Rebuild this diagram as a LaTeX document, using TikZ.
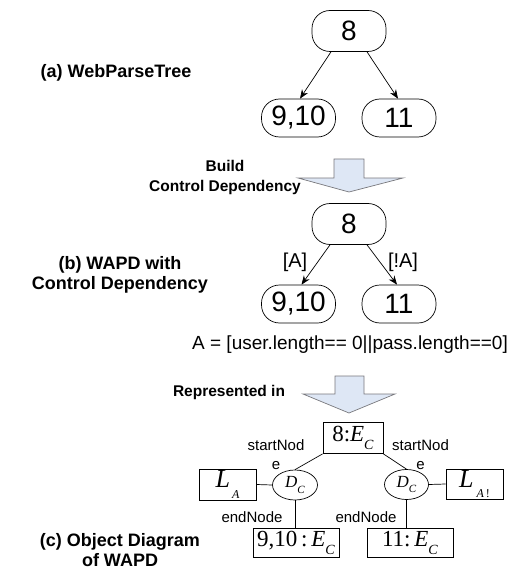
\documentclass[tikz,border=0pt]{standalone}
\usepackage{fontspec}
\setmainfont{Liberation Sans}
\newfontfamily\tms{Liberation Serif}
\usetikzlibrary{arrows.meta,shapes.geometric}

\newcommand\fs[1]{\fontsize{#1}{#1}\selectfont}
% italic letter with a lowered italic subscript
\newcommand\isub[3]{\textit{#1}\raisebox{-0.35em}{\fs{#3}\textit{#2}}}

\definecolor{blockfill}{RGB}{222,231,245}
\definecolor{blockline}{RGB}{120,120,125}

\tikzset{
  treenode/.style={draw, line width=0.7pt, rounded corners=18pt, inner sep=0pt,
    minimum width=74pt, minimum height=38pt, font=\fs{28}},
  objbox/.style={draw, line width=0.7pt, inner sep=0pt, minimum height=30pt,
    font=\tms\fs{23}},
  dnode/.style={draw, ellipse, line width=0.7pt, inner sep=0pt,
    minimum width=45pt, minimum height=30pt, font=\tms\fs{17}},
  treeedge/.style={line width=0.7pt, -{Stealth[length=9pt,width=7pt]}},
  link/.style={line width=0.7pt},
  caption/.style={font=\bfseries\fs{18}, align=center, inner sep=0pt},
  smallcap/.style={font=\bfseries\fs{15.5}, align=center, inner sep=0pt},
  edgelabel/.style={font=\fs{20}, inner sep=0pt},
  rolelabel/.style={font=\fs{15}, align=center, inner sep=0pt},
  blockarrow/.style={fill=blockfill, draw=blockline, line width=0.7pt, line join=miter}
}

\begin{document}
\begin{tikzpicture}[x=1pt, y=-1pt]
\useasboundingbox (0,0) rectangle (513,572);

% ---------- (a) web parse tree ----------
\node[caption] (capa) at (116,73) {(a) WebParseTree};
\node[treenode, minimum height=41pt] (a8) at (349,31) {8};
\node[treenode] (a910) at (298.5,118) {9,10};
\node[treenode] (a11) at (399,118) {11};
\draw[treeedge] ([xshift=-18pt]a8.south) -- ([xshift=1.5pt]a910.north);
\draw[treeedge] ([xshift=18pt]a8.south) -- ([xshift=-1pt]a11.north);

% ---------- block arrow: build control dependency ----------
\draw[blockarrow] (334,159) -- (364,159) -- (364,178) -- (403,178) -- (349,192)
  -- (298,178) -- (334,178) -- cycle;
\node[smallcap] (build) at (225,177) {Build\\[4.5pt]Control Dependency};

% ---------- (b) WAPD with control dependency ----------
\node[caption] (capb) at (120,275) {(b) WAPD with\\[2pt]Control Dependency};
\node[treenode, minimum height=41pt] (b8) at (349,224) {8};
\node[treenode] (b910) at (298.5,304) {9,10};
\node[treenode] (b11) at (399,304) {11};
\draw[treeedge] ([xshift=-19pt]b8.south) -- ([xshift=3pt]b910.north);
\draw[treeedge] ([xshift=18pt]b8.south) -- ([xshift=-2pt]b11.north);
\node[edgelabel] (lblA) at (295,262) {[A]};
\node[edgelabel] (lblnA) at (403,262) {[!A]};
\node[font=\fs{19}, inner sep=0pt] (cond) at (350,345)
  {A = [user.length== 0||pass.length==0]};

% ---------- block arrow: represented in ----------
\draw[blockarrow] (335,376) -- (364,376) -- (364,394) -- (395,394) -- (349,413)
  -- (303,394) -- (335,394) -- cycle;
\node[smallcap] (repr) at (229,392.5) {Represented in};

% ---------- (c) object diagram of WAPD ----------
\node[caption] (capc) at (120,550) {(c) Object Diagram\\[2pt]of WAPD};

\node[objbox, minimum width=60pt, minimum height=31pt] (c8) at (353,438)
  {8:\isub{E}{C}{14}};
\node[dnode] (dl) at (295,485) {\isub{D}{C}{11}};
\node[dnode, minimum width=44pt] (dr) at (406.5,484.5) {\isub{D}{C}{11}};
\node[objbox, minimum width=57pt, minimum height=31pt] (la) at (227.5,484.5)
  {\fs{26}\textit{L}\hspace{2pt}\raisebox{-0.4em}{\fs{12}\textit{A}}};
\node[objbox, minimum width=57pt] (lna) at (474.5,484)
  {\fs{26}\textit{L}\hspace{3pt}\raisebox{-0.4em}{\fs{12}\textit{A}\,!}};
\node[objbox, minimum width=86pt, minimum height=29pt] (c910) at (296,542.5)
  {9,10\,:\,\isub{E}{C}{14}};
\node[objbox, minimum width=86pt, minimum height=29pt] (c11) at (410,542.5)
  {11:\,\isub{E}{C}{14}};

\draw[link] (c8.south west) -- (dl.north);
\draw[link] (c8.south east) -- (dr.north);
\draw[link] (la.east) -- (dl.west);
\draw[link] (dr.east) -- (lna.west);
\draw[link] (dl.south) -- (dl.south |- c910.north);
\draw[link] (dr.south) -- (dr.south |- c11.north);

\node[rolelabel] (snl) at (276,455) {startNod\\[4pt]e};
\node[rolelabel] (snr) at (420.5,455) {startNod\\[4pt]e};
\node[rolelabel] (enl) at (252,517) {endNode};
\node[rolelabel] (enr) at (366,517) {endNode};
\end{tikzpicture}
\end{document}
